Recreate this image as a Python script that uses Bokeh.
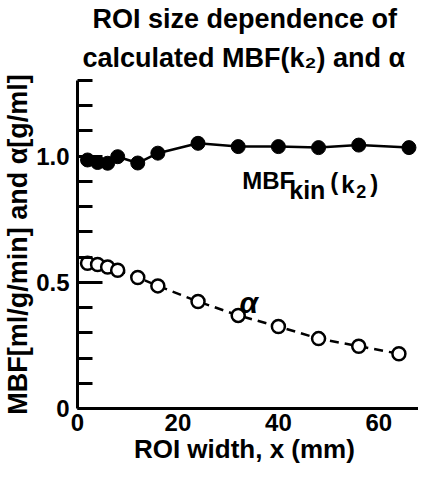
from bokeh.plotting import figure
from bokeh.models import Range1d, FixedTicker, Label, ColumnDataSource, Title
from bokeh.embed import file_html
from bokeh.resources import INLINE

# ---- data ----
roi_width_mbf = [2, 4, 6, 8, 12, 16, 24, 32, 40, 48, 56, 66]
mbf_kin = [0.985, 0.975, 0.972, 0.998, 0.973, 1.012, 1.051, 1.038, 1.038, 1.034, 1.044, 1.034]
roi_width_alpha = [2, 4, 6, 8, 12, 16, 24, 32, 40, 48, 56, 64]
alpha = [0.576, 0.571, 0.561, 0.548, 0.519, 0.486, 0.424, 0.369, 0.325, 0.277, 0.247, 0.217]
x_ticks = [0, 20, 40, 60]
y_ticks = [0, 0.5, 1.0]
y_tick_labels = ["0", "0.5", "1.0"]
y_minor_ticks = [0.1, 0.2, 0.3, 0.4, 0.6, 0.7, 0.8, 0.9, 1.1, 1.2, 1.3]
title_lines = ["ROI  size dependence of", "calculated    MBF(k\u2082) and \u03b1"]
x_label = "ROI  width, x (mm)"
y_label = "MBF[ml/g/min] and \u03b1[g/ml]"

FONT = "Liberation Sans"

p = figure(width=418, height=466, output_backend="svg", toolbar_location=None, title=None,
           x_range=Range1d(0, 67.9), y_range=Range1d(0, 1.3),
           min_border_left=74, min_border_right=0, min_border_top=80, min_border_bottom=54)
p.outline_line_color = None
p.xgrid.visible = False
p.ygrid.visible = False

# title: last added is outermost
for txt, off, so in [(title_lines[1], 5, 15), (title_lines[0], 15, 0)]:
    p.add_layout(Title(text=txt, align="left", offset=off, text_font=FONT, text_font_size="27px",
                       text_font_style="bold", text_color="black", standoff=so), "above")

mbf_src = ColumnDataSource(dict(x=roi_width_mbf, y=mbf_kin))
alpha_src = ColumnDataSource(dict(x=roi_width_alpha, y=alpha))

p.line("x", "y", source=mbf_src, line_color="black", line_width=2.5)
p.scatter("x", "y", source=mbf_src, size=14, fill_color="black", line_color="black")
p.line("x", "y", source=alpha_src, line_color="black", line_width=2.5, line_dash="9 6")
p.scatter("x", "y", source=alpha_src, size=13, fill_color="white", line_color="black", line_width=2.5)

# x axis
xa = p.xaxis[0]
xa.ticker = FixedTicker(ticks=x_ticks)
xa.axis_line_width = 3
xa.axis_line_color = "black"
xa.major_tick_line_color = None
xa.minor_tick_line_color = None
xa.major_tick_in = 0
xa.major_tick_out = 0
xa.minor_tick_in = 0
xa.minor_tick_out = 0
xa.major_label_standoff = 5
xa.major_label_text_font = FONT
xa.major_label_text_font_size = "24px"
xa.major_label_text_font_style = "bold"
xa.major_label_text_color = "black"
xa.axis_label = x_label
xa.axis_label_text_font = FONT
xa.axis_label_text_font_size = "26px"
xa.axis_label_text_font_style = "bold"
xa.axis_label_text_color = "black"
xa.axis_label_standoff = 0

# y axis
ya = p.yaxis[0]
ya.ticker = FixedTicker(ticks=y_ticks, minor_ticks=y_minor_ticks)
ya.major_label_overrides = {t: s for t, s in zip(y_ticks, y_tick_labels)}
ya.axis_line_width = 3
ya.axis_line_color = "black"
ya.major_tick_in = 25
ya.major_tick_out = 0
ya.minor_tick_in = 15
ya.minor_tick_out = 0
ya.major_tick_line_width = 3
ya.minor_tick_line_width = 3
ya.major_tick_line_color = "black"
ya.minor_tick_line_color = "black"
ya.major_label_standoff = 8
ya.major_label_text_font = FONT
ya.major_label_text_font_size = "24px"
ya.major_label_text_font_style = "bold"
ya.major_label_text_color = "black"
ya.axis_label = y_label
ya.axis_label_text_font = FONT
ya.axis_label_text_font_size = "27px"
ya.axis_label_text_font_style = "bold"
ya.axis_label_text_color = "black"
ya.axis_label_standoff = 0

# curve labels
lab_kw = dict(text_font=FONT, text_font_style="bold", text_color="black",
              text_baseline="alphabetic", text_align="left")
p.add_layout(Label(x=32.8, y=0.902, text="MBF", text_font_size="24px", **lab_kw))
p.add_layout(Label(x=32.8, y=0.902, x_offset=47, y_offset=-9, text="kin", text_font_size="25px", **lab_kw))
p.add_layout(Label(x=32.8, y=0.902, x_offset=88, y_offset=-1, text="(", text_font_size="24px", **lab_kw))
p.add_layout(Label(x=32.8, y=0.902, x_offset=99, y_offset=-4, text="k", text_font_size="24px", **lab_kw))
p.add_layout(Label(x=32.8, y=0.902, x_offset=114, y_offset=-11, text="2", text_font_size="18px", **lab_kw))
p.add_layout(Label(x=32.8, y=0.902, x_offset=128, y_offset=-3, text=")", text_font_size="24px", **lab_kw))
p.add_layout(Label(x=34.1, y=0.443, y_offset=-6, text="\u03b1", text_font=FONT, text_font_size="30px",
                   text_font_style="bold italic", text_align="center", text_baseline="middle",
                   text_color="black"))

open("out.html", "w").write(file_html(p, INLINE))
